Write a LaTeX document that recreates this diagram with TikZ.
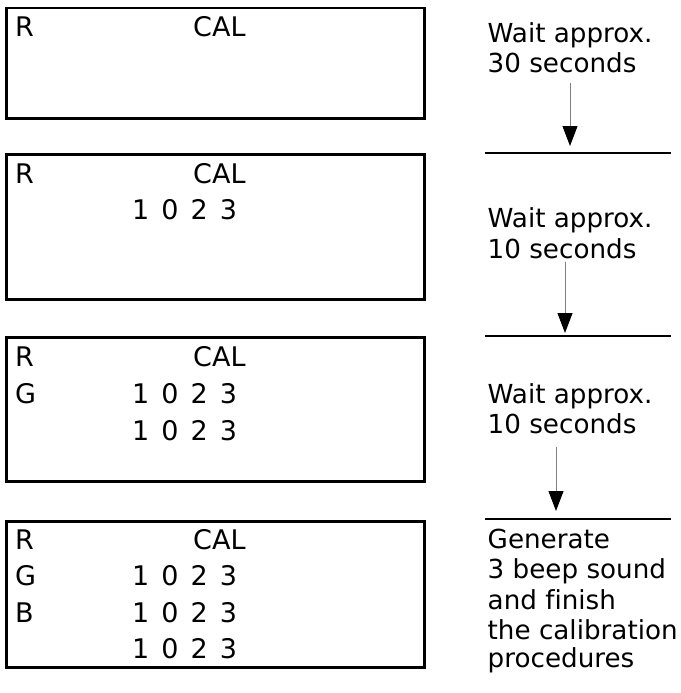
\documentclass[tikz,border=0pt]{standalone}
\usepackage{fontspec}
\setmainfont[Ligatures=NoCommon]{DejaVu Sans}
\newfontfamily\lcdfont[WordSpace=1.4]{DejaVu Sans}
\usetikzlibrary{arrows.meta,positioning}

\begin{document}
\begin{tikzpicture}[x=1pt,y=-1pt]
       \tikzstyle{every node}=[inner sep=0pt, font=\fontsize{26.2}{30.5}\selectfont]
       \tikzstyle{screen}=[draw, line width=2.5pt, anchor=north west, minimum width=418pt]
       \tikzstyle{lcd}=[anchor=base west, font=\fontsize{27}{30}\lcdfont]
       \tikzstyle{note}=[anchor=north west, align=left]
       \tikzstyle{divider}=[line width=2.5pt]
       \tikzstyle{wait}=[draw=gray, line width=1pt, -{Triangle[width=15pt,length=20pt,color=black]}]
       \useasboundingbox (0,0) rectangle (680,693);

       \node[screen, minimum height=110pt] (scr1) at (5,7) {};
       \node[lcd] (r1) at (15,37) {R};
       \node[lcd] (cal1) at (193,37) {CAL};

       \node[screen, minimum height=145pt] (scr2) at (5,153) {};
       \node[lcd] (r2) at (15,183) {R};
       \node[lcd] (cal2) at (193,183) {CAL};
       \node[lcd] (v2a) at (132,219.5) {1 0 2 3};

       \node[screen, minimum height=144pt] (scr3) at (5,336) {};
       \node[lcd] (r3) at (15,366) {R};
       \node[lcd] (cal3) at (193,366) {CAL};
       \node[lcd] (g3) at (15,403) {G};
       \node[lcd] (v3a) at (132,403) {1 0 2 3};
       \node[lcd] (v3b) at (132,440) {1 0 2 3};

       \node[screen, minimum height=146pt] (scr4) at (5,520) {};
       \node[lcd] (r4) at (15,549) {R};
       \node[lcd] (cal4) at (193,549) {CAL};
       \node[lcd] (g4) at (15,585.5) {G};
       \node[lcd] (v4a) at (132,585.5) {1 0 2 3};
       \node[lcd] (b4) at (15,622) {B};
       \node[lcd] (v4b) at (132,622) {1 0 2 3};
       \node[lcd] (v4c) at (132,658.5) {1 0 2 3};

       \node[note] (t1) at (487.5,22) {Wait approx.\\30 seconds};
       \node[note] (t2) at (487.5,207.5) {Wait approx.\\10 seconds};
       \node[note] (t3) at (487.5,383) {Wait approx.\\10 seconds};
       \node[note] (t4) at (487.5,528.5) {Generate\\3 beep sound\\and finish\\the calibration\\[-3pt]procedures};

       \coordinate (d1a) at (485,153);
       \coordinate (d1b) at (671,153);
       \coordinate (d2a) at (485,336);
       \coordinate (d2b) at (671,336);
       \coordinate (d3a) at (485,519);
       \coordinate (d3b) at (671,519);
       \draw[divider] (d1a) -- (d1b);
       \draw[divider] (d2a) -- (d2b);
       \draw[divider] (d3a) -- (d3b);

       \coordinate (w1a) at (570,83);
       \coordinate (w1b) at (570,146);
       \coordinate (w2a) at (565,262);
       \coordinate (w2b) at (565,333);
       \coordinate (w3a) at (556,447);
       \coordinate (w3b) at (556,511);
       \draw[wait] (w1a) -- (w1b);
       \draw[wait] (w2a) -- (w2b);
       \draw[wait] (w3a) -- (w3b);
      \end{tikzpicture}
\end{document}
